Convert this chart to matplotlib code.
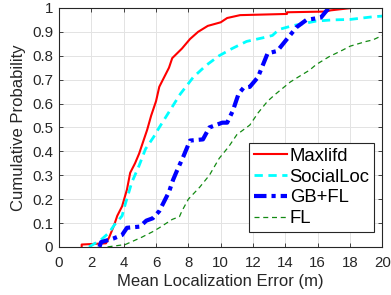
import matplotlib
matplotlib.use("Agg")
import matplotlib.pyplot as plt

# CDF curves (x = error in m, y = cumulative probability)
maxlifd_x = [1.4, 1.4, 2.9, 3.1, 3.4, 3.6, 3.9, 4.2, 4.4, 4.7, 4.95, 5.2, 5.45, 5.7, 6.0,
             6.2, 6.5, 6.8, 7.0, 7.3, 7.6, 8.1, 8.6, 9.2, 10.0, 10.4, 11.2, 14.1, 14.1,
             16.5, 16.8, 18.1]
maxlifd_y = [0.0, 0.01, 0.015, 0.04, 0.09, 0.13, 0.17, 0.24, 0.31, 0.35, 0.39, 0.44, 0.49,
             0.55, 0.61, 0.67, 0.71, 0.75, 0.79, 0.81, 0.83, 0.87, 0.90, 0.925, 0.94, 0.958,
             0.97, 0.975, 0.982, 0.985, 0.99, 1.0]

socialloc_x = [1.85, 2.6, 3.1, 3.4, 3.9, 4.1, 4.5, 4.95, 5.35, 5.85, 6.2, 6.85, 7.5, 8.3,
               9.1, 9.9, 10.7, 11.6, 12.6, 13.2, 13.6, 14.4, 15.9, 16.9, 18.0, 19.4, 20.0]
socialloc_y = [0.0, 0.03, 0.06, 0.09, 0.13, 0.18, 0.27, 0.34, 0.41, 0.46, 0.50, 0.57, 0.64,
               0.71, 0.76, 0.80, 0.83, 0.86, 0.875, 0.885, 0.91, 0.925, 0.945, 0.95, 0.952,
               0.963, 0.966]

gbfl_x = [2.5, 2.6, 3.35, 3.9, 4.2, 5.0, 5.4, 5.8, 6.2, 6.5, 6.8, 7.05, 7.3, 7.7, 8.1, 8.9,
          9.3, 10.1, 10.4, 10.75, 11.1, 11.4, 11.8, 12.3, 12.6, 12.9, 13.5, 14.05, 14.7,
          15.3, 16.2, 16.5, 16.7]
gbfl_y = [0.0, 0.02, 0.035, 0.05, 0.08, 0.085, 0.11, 0.12, 0.15, 0.19, 0.23, 0.28, 0.32,
          0.38, 0.445, 0.45, 0.50, 0.52, 0.52, 0.57, 0.64, 0.665, 0.67, 0.71, 0.76, 0.81,
          0.82, 0.866, 0.92, 0.95, 0.96, 0.985, 1.0]

fl_x = [3.0, 4.1, 5.1, 5.8, 6.2, 7.0, 7.45, 7.6, 8.0, 8.7, 9.3, 9.9, 10.5, 11.0, 11.8,
        12.3, 12.9, 13.4, 14.3, 14.7, 15.5, 15.9, 16.7, 17.55, 18.0, 19.0, 19.4, 20.0]
fl_y = [0.0, 0.01, 0.04, 0.064, 0.08, 0.115, 0.127, 0.15, 0.2, 0.25, 0.3, 0.37, 0.42, 0.47,
        0.51, 0.56, 0.61, 0.64, 0.69, 0.707, 0.74, 0.763, 0.796, 0.824, 0.84, 0.86, 0.866,
        0.885]

plt.rcParams["font.family"] = ["Liberation Sans", "DejaVu Sans"]

fig = plt.figure(figsize=(3.91, 2.95), dpi=100)
ax = fig.add_axes([0.151, 0.163, 0.827, 0.810])

ax.plot(maxlifd_x, maxlifd_y, color="#ff0000", linewidth=1.5, label="Maxlifd")
ax.plot(socialloc_x, socialloc_y, color="#00ffff", linewidth=2.0, linestyle=(0, (3, 2)),
        label="SocialLoc")
ax.plot(gbfl_x, gbfl_y, color="#0000ff", linewidth=3.0, linestyle=(0, (3, 1.2, 1, 1.2)),
        label="GB+FL")
ax.plot(fl_x, fl_y, color="#138a13", linewidth=0.9, linestyle=(0, (4, 3)), label="FL")

ax.set_xlim(0, 20)
ax.set_ylim(0, 1)
ax.set_xticks(range(0, 21, 2))
ax.set_yticks([i / 10 for i in range(11)])
ax.set_yticklabels(["0", "0.1", "0.2", "0.3", "0.4", "0.5", "0.6", "0.7", "0.8", "0.9", "1"])
ax.grid(True, color="#e3e3e3", linewidth=0.7)
ax.set_axisbelow(True)
ax.tick_params(direction="in", top=True, right=True, length=3, width=0.6,
               labelsize=10.8, colors="#262626")
ax.tick_params(axis="x", pad=6.5)
ax.tick_params(axis="y", pad=4.3)
for s in ax.spines.values():
    s.set_color("#262626")
    s.set_linewidth(0.8)

ax.set_xlabel("Mean Localization Error (m)", fontsize=12, color="#262626", labelpad=3)
ax.set_ylabel("Cumulative Probability", fontsize=12, color="#262626", labelpad=4)

leg = ax.legend(loc="lower right", bbox_to_anchor=(0.975, 0.064), fontsize=13.3,
                handlelength=1.8, handletextpad=0.15, labelspacing=0.2, borderpad=0.25,
                borderaxespad=0, fancybox=False, framealpha=1, edgecolor="#262626")
leg.get_frame().set_linewidth(0.8)

fig.savefig("out.png", dpi=100)
